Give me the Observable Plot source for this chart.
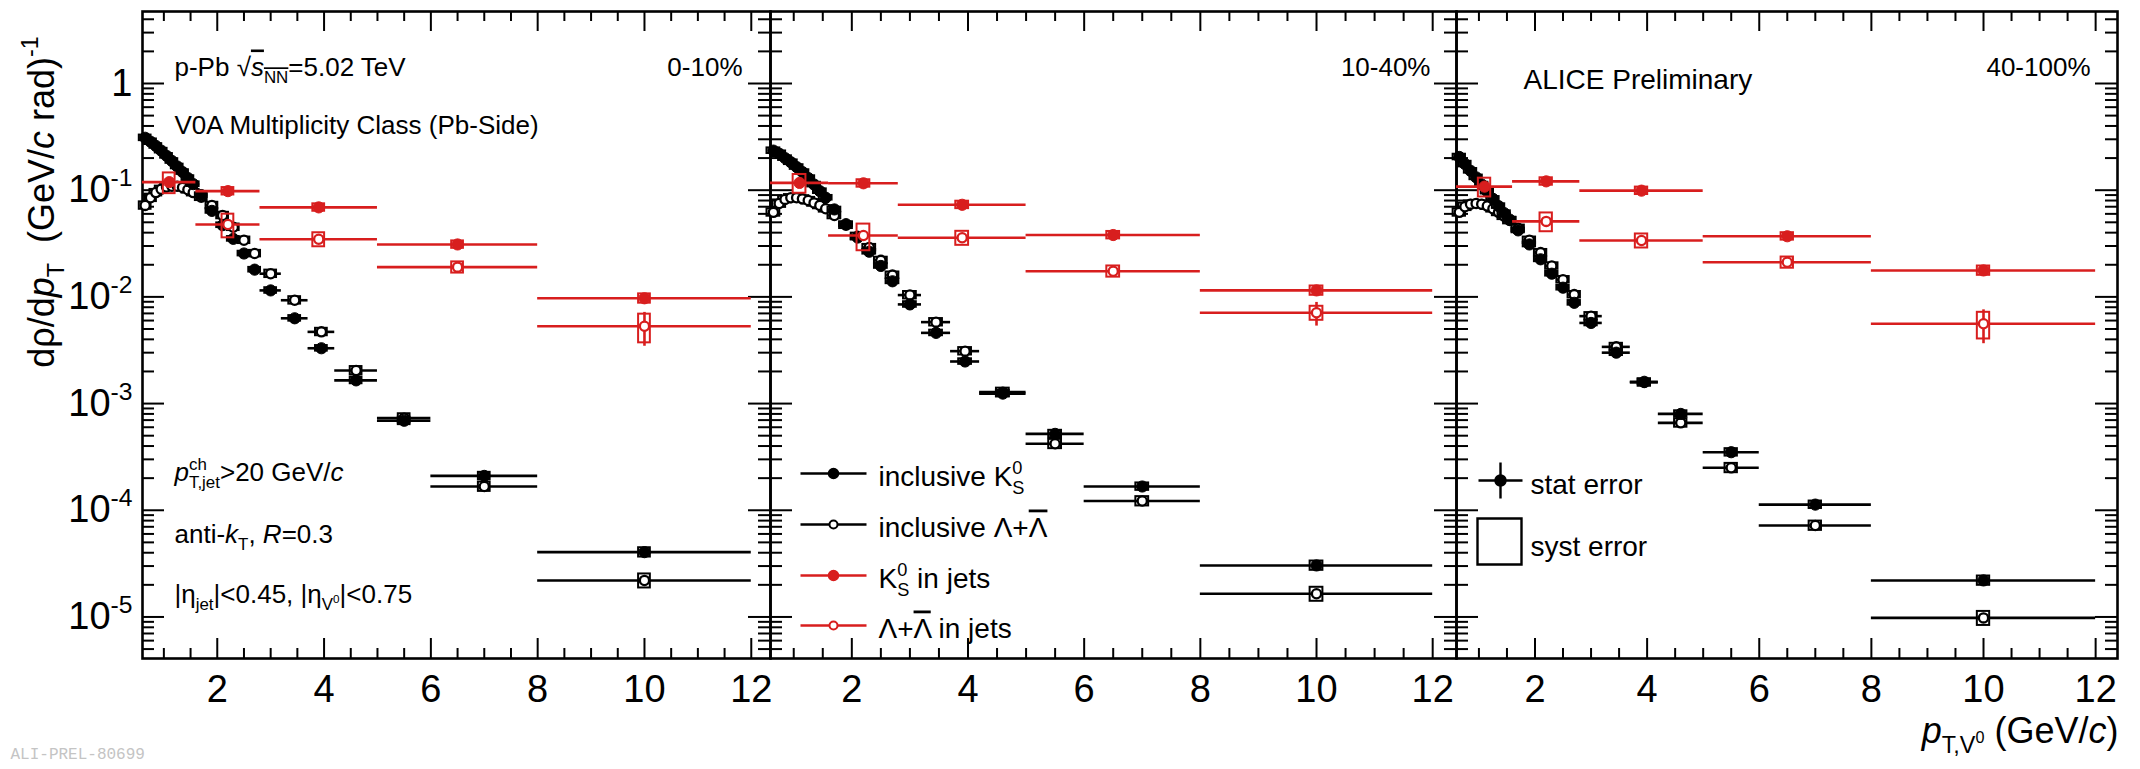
<!DOCTYPE html>
<html>
<head>
<meta charset="utf-8">
<script src="https://cdn.jsdelivr.net/npm/d3@7"></script>
<script src="https://cdn.jsdelivr.net/npm/@observablehq/plot@0.6"></script>
<style>
html, body { margin: 0; padding: 0; background: #fff; }
#chart { position: relative; width: 2140px; height: 769px; overflow: hidden; font-family: "Liberation Sans", Arial, sans-serif; }
#chart svg { position: absolute; top: 0; }
</style>
</head>
<body>
<div id="chart"></div>
<script>
// ---------------- DATA ----------------
const panelLabels = ["0-10%", "10-40%", "40-100%"];

// inclusive spectra binning (bin centres and edges, GeV/c)
const inclPt = [0.65,0.75,0.85,0.95,1.05,1.15,1.25,1.35,1.45,1.55,1.7,1.9,2.1,2.3,2.5,2.7,3.0,3.45,3.95,4.6,5.5,7,10];
const inclLo = [0.6,0.7,0.8,0.9,1.0,1.1,1.2,1.3,1.4,1.5,1.6,1.8,2.0,2.2,2.4,2.6,2.8,3.2,3.7,4.2,5,6,8];
const inclHi = [0.7,0.8,0.9,1.0,1.1,1.2,1.3,1.4,1.5,1.6,1.8,2.0,2.2,2.4,2.6,2.8,3.2,3.7,4.2,5,6,8,12];

// inclusive K0S
const k0Incl_0_10   = [0.31,0.285,0.26,0.235,0.21,0.188,0.167,0.148,0.13,0.114,0.09,0.064,0.047,0.035,0.0255,0.018,0.0115,0.0063,0.0033,0.00165,0.00069,0.00021,0.0000405];
const k0Incl_10_40  = [0.235,0.22,0.2,0.183,0.165,0.148,0.13,0.113,0.098,0.085,0.066,0.048,0.036,0.0265,0.0195,0.014,0.0085,0.0046,0.00248,0.00124,0.00052,0.000167,0.0000304];
const k0Incl_40_100 = [0.205,0.176,0.152,0.132,0.113,0.097,0.083,0.071,0.061,0.053,0.042,0.031,0.0225,0.0165,0.0122,0.0088,0.0057,0.003,0.0016,0.0008,0.00035,0.000113,0.000022];
// inclusive Lambda + anti-Lambda
const lamIncl_0_10   = [0.072,0.085,0.095,0.102,0.107,0.109,0.109,0.106,0.101,0.095,0.086,0.072,0.058,0.045,0.034,0.0255,0.0165,0.0093,0.0047,0.00204,0.00073,0.000167,0.000022];
const lamIncl_10_40  = [0.062,0.075,0.082,0.085,0.085,0.083,0.08,0.076,0.072,0.067,0.058,0.047,0.037,0.029,0.022,0.016,0.0104,0.0058,0.0031,0.00128,0.00042,0.000122,0.0000165];
const lamIncl_40_100 = [0.062,0.07,0.074,0.075,0.074,0.071,0.067,0.062,0.057,0.052,0.044,0.034,0.026,0.0195,0.0145,0.0105,0.0066,0.0034,0.00158,0.00066,0.00025,0.000072,0.0000098];
// relative systematic uncertainties, inclusive
const sysK0Incl  = [0.06,0.06,0.05,0.05,0.05,0.05,0.05,0.05,0.05,0.05,0.05,0.05,0.05,0.05,0.05,0.05,0.06,0.06,0.06,0.07,0.08,0.08,0.1];
const sysLamIncl = [0.08,0.08,0.07,0.07,0.07,0.07,0.07,0.07,0.07,0.07,0.07,0.07,0.07,0.07,0.07,0.07,0.08,0.08,0.08,0.09,0.1,0.1,0.15];

// V0s in jets binning
const jetK0Pt  = [1.1, 2.2, 3.9, 6.5, 10];
const jetK0Lo  = [0.6, 1.6, 2.8, 5, 8];
const jetK0Hi  = [1.6, 2.8, 5, 8, 12];
const jetLamPt = [2.2, 3.9, 6.5, 10];
const jetLamLo = [1.6, 2.8, 5, 8];
const jetLamHi = [2.8, 5, 8, 12];

const k0Jet_0_10   = [0.119, 0.098, 0.069, 0.031, 0.0097];
const k0Jet_10_40  = [0.117, 0.116, 0.073, 0.038, 0.0115];
const k0Jet_40_100 = [0.108, 0.121, 0.099, 0.037, 0.0177];
const lamJet_0_10   = [0.0477, 0.0347, 0.019, 0.0053];
const lamJet_10_40  = [0.0376, 0.0358, 0.0174, 0.0071];
const lamJet_40_100 = [0.051, 0.0338, 0.0211, 0.0056];

const statK0Jet_0_10   = [0.03, 0.03, 0.04, 0.05, 0.08];
const statK0Jet_10_40  = [0.03, 0.03, 0.04, 0.05, 0.08];
const statK0Jet_40_100 = [0.03, 0.03, 0.04, 0.06, 0.1];
const statLamJet_0_10   = [0.04, 0.05, 0.08, 0.35];
const statLamJet_10_40  = [0.04, 0.05, 0.08, 0.25];
const statLamJet_40_100 = [0.04, 0.05, 0.08, 0.35];
const sysK0Jet_0_10   = [0.22, 0.08, 0.08, 0.08, 0.1];
const sysK0Jet_10_40  = [0.2, 0.08, 0.08, 0.08, 0.1];
const sysK0Jet_40_100 = [0.2, 0.08, 0.08, 0.08, 0.1];
const sysLamJet_0_10   = [0.25, 0.15, 0.12, 0.3];
const sysLamJet_10_40  = [0.28, 0.15, 0.12, 0.15];
const sysLamJet_40_100 = [0.2, 0.15, 0.12, 0.28];

// axes
const xMajorTicks = [2, 4, 6, 8, 10, 12];
const xMinorTicks = [1, 1.5, 2.5, 3, 3.5, 4.5, 5, 5.5, 6.5, 7, 7.5, 8.5, 9, 9.5, 10.5, 11, 11.5];
const yMajorTicks = [1e-5, 1e-4, 1e-3, 1e-2, 1e-1, 1];
const yTickLabels = ["10^{-5}", "10^{-4}", "10^{-3}", "10^{-2}", "10^{-1}", "1"];
const legendLabels = ["inclusive K^{0}@{S}", "inclusive Λ+~Λ~", "K^{0}@{S} in jets", "Λ+~Λ~ in jets"];

// ---------------- LAYOUT / STYLE ----------------
const RED = "#d81e1e";
const H = 769, M_TOP = 11, M_BOTTOM = 111;
const X_MIN = 0.6;
const Y_DOMAIN = [4.08e-6, 4.73];
const decadePx = (H - M_TOP - M_BOTTOM) / Math.log10(Y_DOMAIN[1] / Y_DOMAIN[0]);
const yUp = px => Y_DOMAIN[0] * Math.pow(10, px / decadePx);
const yDown = px => Y_DOMAIN[1] / Math.pow(10, px / decadePx);
const yMinorTicks = [];
for (let k = -6; k <= 0; k++) for (let m = 2; m <= 9; m++) {
  const v = m * Math.pow(10, k);
  if (v > Y_DOMAIN[0] && v < Y_DOMAIN[1]) yMinorTicks.push(v);
}

const panels = [
  {label: panelLabels[0], left: 0, width: 770, ml: 142, mr: 0, xmax: 12.36,
   k0Incl: k0Incl_0_10, lamIncl: lamIncl_0_10, k0Jet: k0Jet_0_10, lamJet: lamJet_0_10,
   statK0: statK0Jet_0_10, statLam: statLamJet_0_10, sysK0: sysK0Jet_0_10, sysLam: sysLamJet_0_10, labelDx: -28},
  {label: panelLabels[1], left: 770, width: 686, ml: 0, mr: 0, xmax: 12.41,
   k0Incl: k0Incl_10_40, lamIncl: lamIncl_10_40, k0Jet: k0Jet_10_40, lamJet: lamJet_10_40,
   statK0: statK0Jet_10_40, statLam: statLamJet_10_40, sysK0: sysK0Jet_10_40, sysLam: sysLamJet_10_40, labelDx: -26},
  {label: panelLabels[2], left: 1456, width: 684, ml: 0, mr: 23, xmax: 12.39,
   k0Incl: k0Incl_40_100, lamIncl: lamIncl_40_100, k0Jet: k0Jet_40_100, lamJet: lamJet_40_100,
   statK0: statK0Jet_40_100, statLam: statLamJet_40_100, sysK0: sysK0Jet_40_100, sysLam: sysLamJet_40_100, labelDx: -27}
];

// custom legend symbols
const hLine = half => ({draw(ctx) { ctx.moveTo(-half, 0); ctx.lineTo(half, 0); }});
const crossSym = (hw, hh) => ({draw(ctx) { ctx.moveTo(-hw, 0); ctx.lineTo(hw, 0); ctx.moveTo(0, -hh); ctx.lineTo(0, hh); }});
const boxSym = (hw, hh) => ({draw(ctx) { ctx.moveTo(-hw, -hh); ctx.lineTo(hw, -hh); ctx.lineTo(hw, hh); ctx.lineTo(-hw, hh); ctx.closePath(); }});

const BOX_HW = 0.11;

function seriesMarks(rows, color, filled, withStat) {
  const marks = [];
  marks.push(Plot.rect(rows, {x1: d => d.x - BOX_HW, x2: d => d.x + BOX_HW, y1: d => d.v * (1 - d.sys), y2: d => d.v * (1 + d.sys), fill: "none", stroke: color, strokeWidth: 2}));
  marks.push(Plot.ruleY(rows, {y: "v", x1: "lo", x2: "hi", stroke: color, strokeWidth: 2.6}));
  if (withStat) marks.push(Plot.ruleX(rows, {x: "x", y1: d => d.v * (1 - d.stat), y2: d => d.v * (1 + d.stat), stroke: color, strokeWidth: 2.6}));
  if (filled) marks.push(Plot.dot(rows, {x: "x", y: "v", r: 5.6, fill: color, stroke: color, strokeWidth: 1}));
  else marks.push(Plot.dot(rows, {x: "x", y: "v", r: 4.6, fill: "white", stroke: color, strokeWidth: 2.3}));
  return marks;
}

function buildPanel(p, idx) {
  const ppu = (p.width - p.ml - p.mr) / (p.xmax - X_MIN);
  const xr = px => X_MIN + px / ppu;
  const xl = px => p.xmax - px / ppu;
  const k0Rows = inclPt.map((x, i) => ({x, lo: inclLo[i], hi: inclHi[i], v: p.k0Incl[i], sys: sysK0Incl[i]}));
  const lamRows = inclPt.map((x, i) => ({x, lo: inclLo[i], hi: inclHi[i], v: p.lamIncl[i], sys: sysLamIncl[i]}));
  const k0JetRows = jetK0Pt.map((x, i) => ({x, lo: jetK0Lo[i], hi: jetK0Hi[i], v: p.k0Jet[i], stat: p.statK0[i], sys: p.sysK0[i]}));
  const lamJetRows = jetLamPt.map((x, i) => ({x, lo: jetLamLo[i], hi: jetLamHi[i], v: p.lamJet[i], stat: p.statLam[i], sys: p.sysLam[i]}));

  const tk = {stroke: "black", strokeWidth: 2};
  const marks = [
    // ticks (ROOT style, inward on all four sides)
    Plot.ruleX(xMajorTicks, {x: d => d, y1: Y_DOMAIN[0], y2: yUp(20), ...tk}),
    Plot.ruleX(xMinorTicks, {x: d => d, y1: Y_DOMAIN[0], y2: yUp(10), ...tk}),
    Plot.ruleX(xMajorTicks, {x: d => d, y1: yDown(20), y2: Y_DOMAIN[1], ...tk}),
    Plot.ruleX(xMinorTicks, {x: d => d, y1: yDown(10), y2: Y_DOMAIN[1], ...tk}),
    Plot.ruleY(yMajorTicks, {y: d => d, x1: X_MIN, x2: xr(22), ...tk}),
    Plot.ruleY(yMinorTicks, {y: d => d, x1: X_MIN, x2: xr(12), ...tk}),
    Plot.ruleY(yMajorTicks, {y: d => d, x1: xl(22), x2: p.xmax, ...tk}),
    Plot.ruleY(yMinorTicks, {y: d => d, x1: xl(12), x2: p.xmax, ...tk}),
    Plot.frame({stroke: "black", strokeWidth: 2.6}),
    Plot.text(xMajorTicks, {x: d => d, frameAnchor: "bottom", dy: 17, lineAnchor: "top", text: d => String(d), fontSize: 38}),
    // inclusive
    ...seriesMarks(lamRows, "black", false, false),
    ...seriesMarks(k0Rows, "black", true, false),
    // in jets
    ...seriesMarks(lamJetRows, RED, false, true),
    ...seriesMarks(k0JetRows, RED, true, true),
    // centrality label
    Plot.text([p.label], {frameAnchor: "top-right", dx: p.labelDx, dy: 64, textAnchor: "end", lineAnchor: "bottom", text: d => d, fontSize: 26})
  ];

  if (idx === 0) {
    marks.push(
      Plot.text(yMajorTicks, {y: d => d, frameAnchor: "left", dx: -10, textAnchor: "end", text: (d, i) => yTickLabels[i], fontSize: 38}),
      Plot.text(["dρ/d*p*_{T}  (GeV/*c* rad)^{-1}"], {frameAnchor: "left", rotate: -90, dx: -89, dy: -133, textAnchor: "middle", lineAnchor: "bottom", text: d => d, fontSize: 36}),
      Plot.text(["p-Pb √~*s*_{NN}~=5.02 TeV"], {frameAnchor: "top-left", dx: 32, dy: 64, textAnchor: "start", lineAnchor: "bottom", text: d => d, fontSize: 26}),
      Plot.text(["V0A Multiplicity Class (Pb-Side)"], {frameAnchor: "top-left", dx: 32, dy: 122, textAnchor: "start", lineAnchor: "bottom", text: d => d, fontSize: 26}),
      Plot.text(["*p*^{ch}@{T,jet}>20 GeV/*c*"], {frameAnchor: "top-left", dx: 32, dy: 469, textAnchor: "start", lineAnchor: "bottom", text: d => d, fontSize: 26}),
      Plot.text(["anti-*k*_{T}, *R*=0.3"], {frameAnchor: "top-left", dx: 32, dy: 531, textAnchor: "start", lineAnchor: "bottom", text: d => d, fontSize: 26}),
      Plot.text(["|η_{jet}|<0.45, |η_{V}%{0}|<0.75"], {frameAnchor: "top-left", dx: 32, dy: 591, textAnchor: "start", lineAnchor: "bottom", text: d => d, fontSize: 26}),
      Plot.text(["ALI-PREL-80699"], {frameAnchor: "bottom-left", dx: -132, dy: 100, textAnchor: "start", lineAnchor: "bottom", text: d => d, fontSize: 16, fontFamily: "Liberation Mono, monospace", fill: "#c4c4c4"})
    );
  }
  if (idx === 1) {
    const rows = [462, 513, 564, 614];
    const cols = ["black", "black", RED, RED];
    const filled = [true, false, true, false];
    rows.forEach((dy, i) => {
      marks.push(
        Plot.dot([0], {frameAnchor: "top-left", dx: 63, dy, symbol: hLine(33), r: 5, fill: "none", stroke: cols[i], strokeWidth: 2.4}),
        filled[i]
          ? Plot.dot([0], {frameAnchor: "top-left", dx: 63, dy, r: 5, fill: cols[i], stroke: cols[i]})
          : Plot.dot([0], {frameAnchor: "top-left", dx: 63, dy, r: 4, fill: "white", stroke: cols[i], strokeWidth: 2}),
        Plot.text([legendLabels[i]], {frameAnchor: "top-left", dx: 108, dy: dy + 12, textAnchor: "start", lineAnchor: "bottom", text: d => d, fontSize: 28})
      );
    });
  }
  if (idx === 2) {
    marks.push(
      Plot.text(["ALICE Preliminary"], {frameAnchor: "top-left", dx: 67, dy: 77, textAnchor: "start", lineAnchor: "bottom", text: d => d, fontSize: 28}),
      Plot.dot([0], {frameAnchor: "top-left", dx: 44, dy: 469, symbol: crossSym(22, 18), r: 5, fill: "none", stroke: "black", strokeWidth: 2.4}),
      Plot.dot([0], {frameAnchor: "top-left", dx: 44, dy: 469, r: 5.5, fill: "black", stroke: "black"}),
      Plot.text(["stat error"], {frameAnchor: "top-left", dx: 74, dy: 482, textAnchor: "start", lineAnchor: "bottom", text: d => d, fontSize: 28}),
      Plot.dot([0], {frameAnchor: "top-left", dx: 43, dy: 530, symbol: boxSym(22, 23), r: 5, fill: "none", stroke: "black", strokeWidth: 2.4}),
      Plot.text(["syst error"], {frameAnchor: "top-left", dx: 74, dy: 544, textAnchor: "start", lineAnchor: "bottom", text: d => d, fontSize: 28}),
      Plot.text(["*p*_{T,V}%{0} (GeV/*c*)"], {frameAnchor: "bottom-right", dx: 1, dy: 84, textAnchor: "end", lineAnchor: "bottom", text: d => d, fontSize: 36})
    );
  }

  const svg = Plot.plot({
    width: p.width, height: H,
    marginLeft: p.ml, marginRight: p.mr, marginTop: M_TOP, marginBottom: M_BOTTOM,
    x: {type: "linear", domain: [X_MIN, p.xmax], axis: null},
    y: {type: "log", domain: Y_DOMAIN, axis: null},
    style: {background: "none", overflow: "visible", fontFamily: "Liberation Sans, Arial, Helvetica, sans-serif", color: "black"},
    marks
  });
  svg.style.left = p.left + "px";
  svg.style.maxWidth = "none";
  return svg;
}

const chart = document.getElementById("chart");
panels.forEach((p, i) => chart.appendChild(buildPanel(p, i)));

// rich text: *italic*, ~overline~, _{sub}, ^{sup}, @{sub under previous sup}, %{tiny sup on sub}
function richify(root) {
  const NS = "http://www.w3.org/2000/svg";
  const cfg = {"": [1, 0], "^": [0.65, -0.42], "_": [0.65, 0.3], "@": [0.65, 0.3], "%": [0.45, 0.0]};
  root.querySelectorAll("text").forEach(el => {
    const s = el.textContent;
    if (!/[*~]|[_^@%]\{/.test(s)) return;
    const base = parseFloat(getComputedStyle(el).fontSize) || 10;
    const segs = [];
    let i = 0, it = false, ov = false, buf = "";
    const flush = () => { if (buf) segs.push({t: buf, m: "", it, ov}); buf = ""; };
    while (i < s.length) {
      const c = s[i];
      if ("_^@%".includes(c) && s[i + 1] === "{") {
        flush();
        const j = s.indexOf("}", i + 2);
        segs.push({t: s.slice(i + 2, j), m: c, it, ov});
        i = j + 1;
      } else if (c === "*") { flush(); it = !it; i++; }
      else if (c === "~") { flush(); ov = !ov; i++; }
      else { buf += c; i++; }
    }
    flush();
    el.textContent = "";
    let cur = 0, prev = null;
    for (const sg of segs) {
      const [sz, sh] = cfg[sg.m];
      const ts = document.createElementNS(NS, "tspan");
      ts.textContent = sg.t;
      if (sz !== 1) ts.setAttribute("font-size", (base * sz).toFixed(2));
      if (sg.it) ts.setAttribute("font-style", "italic");
      if (sg.ov) { ts.setAttribute("text-decoration", "overline"); ts.style.textDecoration = "overline"; }
      const target = sh * base;
      if (Math.abs(target - cur) > 0.01) { ts.setAttribute("dy", (target - cur).toFixed(2)); cur = target; }
      el.appendChild(ts);
      if (sg.m === "@" && prev) ts.setAttribute("dx", (-prev.getComputedTextLength()).toFixed(2));
      prev = ts;
    }
  });
}
richify(chart);
</script>
</body>
</html>
